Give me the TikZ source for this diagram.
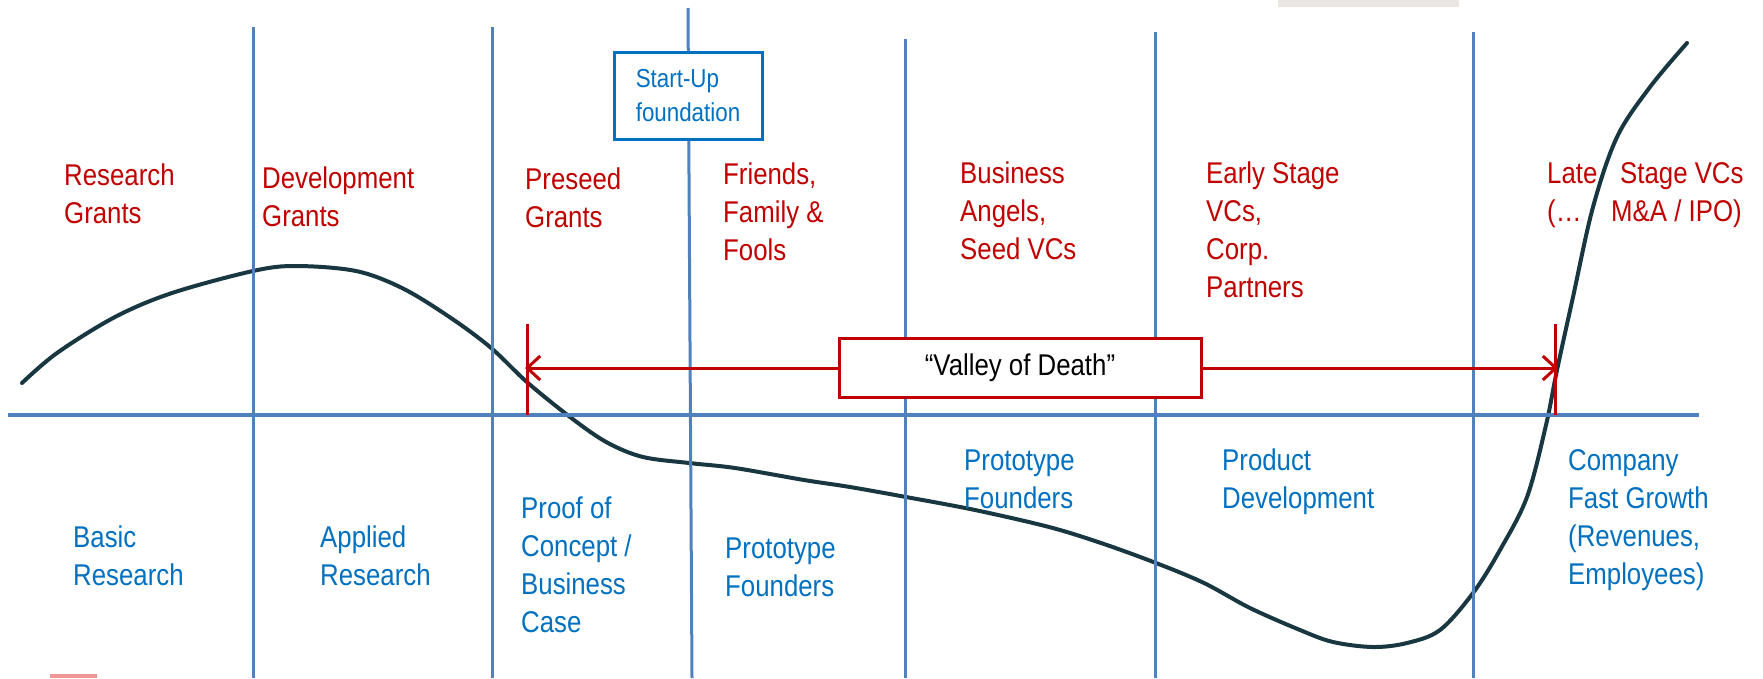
\documentclass[tikz,border=0pt]{standalone}
\usepackage{fontspec}
\setmainfont[FakeStretch=0.86]{Liberation Sans}
\usetikzlibrary{arrows.meta}
\definecolor{fundred}{RGB}{192,0,0}
\definecolor{stageblue}{RGB}{0,112,192}
\definecolor{gridblue}{RGB}{79,129,189}
\definecolor{curvecol}{RGB}{25,55,65}
\definecolor{smudge}{RGB}{236,230,227}
\definecolor{pinkbar}{RGB}{240,150,150}
\newcommand{\mylines}[1]{\begin{tabular}[t]{@{}l@{}}#1\end{tabular}}
\begin{document}
\begin{tikzpicture}[x=1pt,y=-1pt,
  lbl/.style={anchor=base west, inner sep=0pt, font=\fontsize{30}{38}\selectfont},
  fund/.style={lbl, text=fundred},
  stage/.style={lbl, text=stageblue},
  gridline/.style={draw=gridblue, line width=3pt},
  axisline/.style={draw=gridblue, line width=4pt},
  redline/.style={draw=fundred, line width=3pt},
  redarrow/.style={redline, -{Straight Barb[length=13pt,width=24pt,line width=3pt]}},
  redbox/.style={draw=fundred, line width=3pt, fill=white, minimum width=362pt, minimum height=59pt, inner sep=0pt, font=\fontsize{30}{38}\selectfont, text=black},
  startbox/.style={draw=stageblue, line width=3pt, fill=white, minimum width=148pt, minimum height=87pt, inner sep=0pt, align=left, text=stageblue, font=\fontsize{26}{34}\selectfont},
  curve/.style={draw=curvecol, line width=4pt, line cap=round}
]
\useasboundingbox (0,0) rectangle (1763,678);
% artifacts
\fill[smudge] (1278,0) rectangle (1459,7);
\fill[pinkbar] (50,674) rectangle (97,678);

% curve
\draw[curve] plot[smooth, tension=0.55] coordinates {
 (22,383) (57,353) (115,317) (172,293) (253,271) (296,266) (356,271) (402,288)
 (448,316) (490,347) (528,383) (574,420) (608,443) (643,457)
 (689,463) (735,468) (804,480) (850,487) (906,497) (975,510) (1049,527) (1101,543)
 (1156,563) (1204,583) (1250,608) (1300,630) (1333,642) (1373,647) (1407,643)
 (1440,630) (1473,593) (1500,550) (1527,497) (1546,425) (1557,370)
 (1573,297) (1593,207) (1617,137) (1650,87) (1687,43)};

% grid
\draw[gridline] (253,27) -- (253,678);
\draw[gridline] (492,27) -- (492,678);
\draw[gridline] (688,8) -- (692,678);
\draw[gridline] (905,39) -- (905,678);
\draw[gridline] (1155,32) -- (1155,678);
\draw[gridline] (1473,32) -- (1473,678);
\draw[axisline] (8,415) -- (1699,415);

% start-up box
\node[startbox] (startup) at (688,95.5) {Start-Up\\foundation};

% valley of death
\coordinate (vlt) at (527,324);
\coordinate (vlb) at (527,415);
\coordinate (vrt) at (1555,324);
\coordinate (vrb) at (1555,415);
\coordinate (tipL) at (525,368);
\coordinate (tipR) at (1558,368);
\draw[redline] (vlt) -- (vlb);
\draw[redline] (vrt) -- (vrb);
\node[redbox] (valley) at (1020,368) {“Valley of Death”};
\draw[redarrow] (valley.west) -- (tipL);
\draw[redarrow] (valley.east) -- (tipR);

% funding labels
\node[fund] (f1) at (64,185) {\mylines{Research\\Grants}};
\node[fund] (f2) at (262,188) {\mylines{Development\\Grants}};
\node[fund] (f3) at (525,189) {\mylines{Preseed\\Grants}};
\node[fund] (f4) at (723,184) {\mylines{Friends,\\Family \&\\Fools}};
\node[fund] (f5) at (960,183) {\mylines{Business\\Angels,\\Seed VCs}};
\node[fund] (f6) at (1206,183) {\mylines{Early Stage\\VCs,\\Corp.\\Partners}};
\node[fund] (f7) at (1547,183) {\mylines{\makebox[73pt][l]{Late}Stage VCs\\\makebox[64pt][l]{(…}M\&A / IPO)}};

% stage labels
\node[stage] (s1) at (73,547) {\mylines{Basic\\Research}};
\node[stage] (s2) at (320,547) {\mylines{Applied\\Research}};
\node[stage] (s3) at (521,518) {\mylines{Proof of\\Concept /\\Business\\Case}};
\node[stage] (s4) at (725,558) {\mylines{Prototype\\Founders}};
\node[stage] (s5) at (964,470) {\mylines{Prototype\\Founders}};
\node[stage] (s6) at (1222,470) {\mylines{Product\\Development}};
\node[stage] (s7) at (1568,470) {\mylines{Company\\Fast Growth\\(Revenues,\\Employees)}};
\end{tikzpicture}
\end{document}
